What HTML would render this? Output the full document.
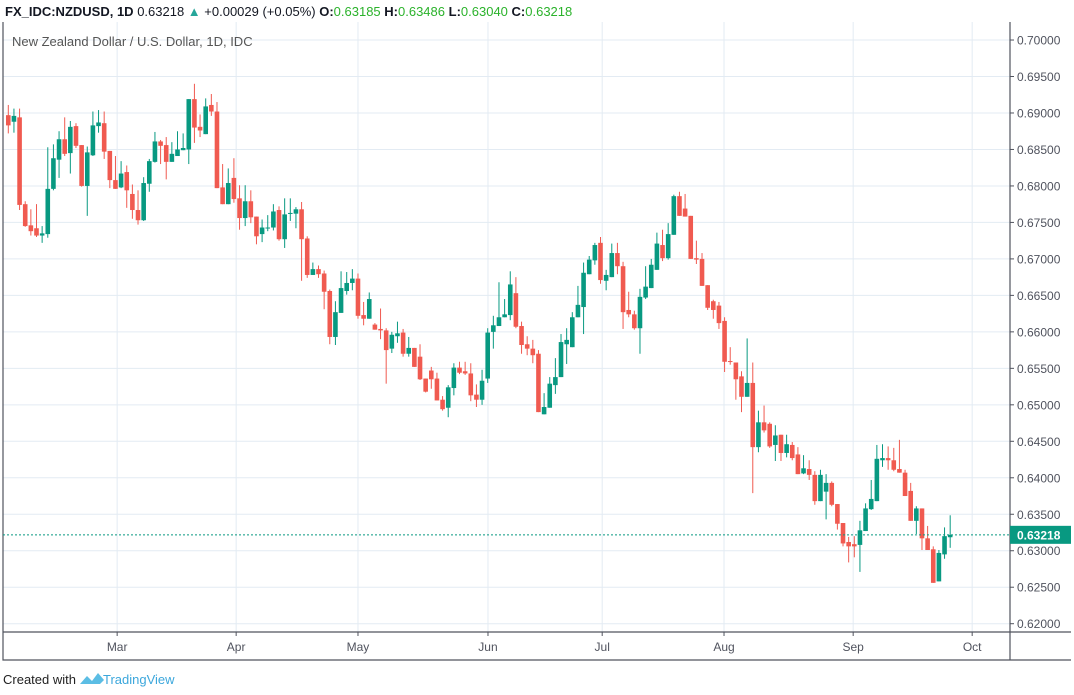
<!DOCTYPE html>
<html><head><meta charset="utf-8">
<style>
body{margin:0;background:#fff;width:1074px;height:695px;overflow:hidden;font-family:"Liberation Sans",sans-serif;}
svg{position:absolute;left:0;top:0;}
</style></head>
<body>
<svg id="chart" width="1074" height="695" xmlns="http://www.w3.org/2000/svg">
  <g id="grid"></g>
  <g id="candles"></g>
  <g id="axes"></g>
  <text x="5" y="16" font-size="13" fill="#131722"><tspan font-weight="bold">FX_IDC:NZDUSD, 1D</tspan> 0.63218 <tspan fill="#26a69a">▲</tspan> +0.00029 (+0.05%) <tspan font-weight="bold">O:</tspan><tspan fill="#2bb22b">0.63185</tspan> <tspan font-weight="bold">H:</tspan><tspan fill="#2bb22b">0.63486</tspan> <tspan font-weight="bold">L:</tspan><tspan fill="#2bb22b">0.63040</tspan> <tspan font-weight="bold">C:</tspan><tspan fill="#2bb22b">0.63218</tspan></text>
  <text x="12" y="46" font-size="13" fill="#555">New Zealand Dollar / U.S. Dollar, 1D, IDC</text>
  <text x="3" y="684" font-size="13" fill="#222">Created with</text>
  <path d="M80 684 L87 676 L92 681 L98 673 L104 680 L100 684 Z" fill="#5bbde4"/>
  <text x="103" y="684" font-size="13" fill="#3ca7dc">TradingView</text>
</svg>
<script>
const opens=[.6897,.6888,.6894,.6775,.6746,.6742,.6732,.6734,.6796,.6836,.6864,.6845,.6882,.6856,.6800,.6842,.6882,.6886,.6848,.6808,.6798,.6819,.6789,.6767,.6753,.6803,.6833,.6861,.6856,.6833,.6841,.6849,.6850,.6919,.6881,.6871,.6911,.6902,.6798,.6775,.6811,.6783,.6756,
.6779,.6758,.6734,.6743,.6743,.6767,.6727,.6762,.6762,.6768,.6728,.6678,.6686,.6680,.6656,.6593,.6626,.6656,.6667,.6673,.6623,.6618,.6610,.6604,.6602,.6577,.6594,.6599,.6570,.6578,.6566,.6536,.6547,.6536,.6507,.6496,.6523,.6551,.6546,.6543,.6514,.6507,.6536,
.6600,.6608,.6620,.6623,.6653,.6608,.6583,.6577,.6570,.6487,.6496,.6527,.6538,.6583,.6579,.6620,.6634,.6679,.6698,.6722,.6670,.6675,.6708,.6690,.6630,.6624,.6605,.6647,.6660,.6685,.6719,.6701,.6733,.6786,.6769,.6759,.6701,.6700,.6664,.6642,.6636,.6615,
.6560,.6558,.6539,.6511,.6530,.6442,.6476,.6474,.6445,.6459,.6434,.6445,.6432,.6406,.6412,.6404,.6368,.6381,.6393,.6364,.6338,.6312,.6309,.6308,.6327,.6357,.6368,.6424,.6427,.6424,.6412,.6407,.6382,.6341,.6358,.6317,.6302,.6258,.6295,.63185];
const highs=[.6911,.6906,.6906,.6779,.6768,.6775,.6745,.6853,.6857,.6875,.6894,.6889,.6886,.6856,.6854,.6902,.6904,.6902,.6848,.6841,.6834,.6828,.6802,.6794,.6812,.6837,.6874,.6863,.6867,.6860,.6875,.6872,.6919,.6940,.6898,.6920,.6926,.6915,.6830,.6824,.6838,.6801,.6801,
.6794,.6758,.6754,.6760,.6775,.6772,.6783,.6783,.6771,.6778,.6731,.6695,.6691,.6684,.6658,.6642,.6683,.6682,.6686,.6680,.6641,.6654,.6612,.6632,.6605,.6600,.6614,.6604,.6593,.6578,.6583,.6536,.6552,.6544,.6512,.6527,.6557,.6559,.6559,.6557,.6528,.6548,.6605,
.6622,.6668,.6645,.6683,.6675,.6614,.6594,.6589,.6575,.6516,.6538,.6564,.6597,.6605,.6627,.6663,.6695,.6704,.6722,.6730,.6685,.6721,.6722,.6696,.6655,.6629,.6659,.6690,.6700,.6736,.6740,.6749,.6788,.6792,.6789,.6759,.6725,.6708,.6664,.6644,.6641,.6620,
.6579,.6558,.6546,.6591,.6558,.6492,.6499,.6476,.6472,.6459,.6459,.6449,.6442,.6431,.6424,.6409,.6411,.6405,.6395,.6364,.6338,.6319,.6320,.6341,.6365,.6397,.6445,.6446,.6443,.6441,.6452,.6411,.6393,.6361,.6358,.6334,.6306,.6301,.6332,.63486];
const lows=[.6872,.6873,.6767,.6744,.6732,.6730,.6722,.6729,.6794,.6811,.6841,.6817,.6852,.6799,.6759,.6841,.6873,.6837,.6797,.6796,.6797,.6770,.6755,.6747,.6752,.6792,.6832,.6830,.6809,.6833,.6841,.6849,.6830,.6859,.6867,.6871,.6896,.6797,.6775,.6775,.6777,.6740,.6745,
.6749,.6720,.6723,.6738,.6739,.6725,.6715,.6752,.6742,.6670,.6674,.6678,.6674,.6631,.6583,.6582,.6626,.6651,.6657,.6618,.6609,.6618,.6603,.6590,.6529,.6571,.6585,.6566,.6566,.6552,.6534,.6517,.6522,.6506,.6492,.6483,.6513,.6542,.6541,.6505,.6497,.6500,.6530,
.6577,.6608,.6620,.6616,.6605,.6570,.6568,.6557,.6490,.6487,.6496,.6515,.6538,.6556,.6579,.6620,.6597,.6679,.6692,.6666,.6657,.6675,.6679,.6604,.6620,.6603,.6570,.6645,.6660,.6685,.6697,.6699,.6733,.6759,.6758,.6700,.6693,.6663,.6630,.6618,.6604,.6545,
.6555,.6507,.6490,.6511,.6379,.6435,.6462,.6441,.6423,.6423,.6428,.6424,.6405,.6405,.6397,.6363,.6368,.6343,.6361,.6329,.6306,.6284,.6291,.6271,.6327,.6356,.6368,.6415,.6411,.6409,.6407,.6375,.6341,.6323,.6301,.6301,.6256,.6258,.6289,.63040];
const closes=[.6883,.6896,.6774,.6745,.6738,.6732,.6735,.6796,.6838,.6864,.6844,.6881,.6855,.6800,.6846,.6883,.6887,.6847,.6808,.6796,.6817,.6794,.6767,.6753,.6804,.6834,.6861,.6855,.6833,.6844,.6850,.6852,.6919,.6880,.6876,.6909,.6902,.6797,.6775,.6804,.6782,.6756,.6779,
.6757,.6731,.6743,.6743,.6765,.6727,.6761,.6763,.6768,.6727,.6678,.6686,.6679,.6655,.6593,.6627,.6660,.6667,.6673,.6622,.6618,.6645,.6603,.6602,.6575,.6596,.6598,.6570,.6578,.6552,.6535,.6518,.6535,.6506,.6494,.6524,.6551,.6544,.6543,.6513,.6507,.6533,.6599,
.6609,.6620,.6624,.6665,.6607,.6582,.6577,.6568,.6490,.6497,.6529,.6538,.6586,.6589,.6620,.6637,.6681,.6699,.6719,.6671,.6678,.6708,.6690,.6627,.6624,.6605,.6648,.6662,.6692,.6721,.6701,.6734,.6786,.6759,.6758,.6700,.6699,.6663,.6633,.6630,.6612,.6559,
.6559,.6535,.6511,.6530,.6442,.6476,.6465,.6443,.6458,.6434,.6446,.6427,.6405,.6413,.6404,.6368,.6404,.6393,.6363,.6337,.6310,.6306,.6306,.6328,.6358,.6371,.6426,.6427,.6424,.6411,.6407,.6375,.6341,.6358,.6317,.6301,.6256,.6297,.6320,.63218];
const priceTicks=[0.62,0.625,0.63,0.635,0.64,0.645,0.65,0.655,0.66,0.665,0.67,0.675,0.68,0.685,0.69,0.695,0.70];
const monthLabels=["Mar","Apr","May","Jun","Jul","Aug","Sep","Oct"];
const monthIndex=[19.3,40.4,62.0,85.05,105.3,126.9,149.8,170.9];
const lastPrice=0.63218;

const NS="http://www.w3.org/2000/svg";
const X0=8.3, DX=5.64, PL=3, PR=1010, PT=22, PB=632;
function xAt(i){return X0+i*DX;}
function yAt(p){return 623.7-(p-0.62)/0.005*36.48;}
function mk(tag,attrs,parent){const e=document.createElementNS(NS,tag);for(const k in attrs)e.setAttribute(k,attrs[k]);parent.appendChild(e);return e;}
const grid=document.getElementById('grid'),cg=document.getElementById('candles'),ax=document.getElementById('axes');

priceTicks.forEach(p=>{
  const y=yAt(p);
  const l=mk('line',{x1:PL,x2:PR,y1:y,y2:y,stroke:'#e3ebf3','stroke-width':1},grid);
  
  
  mk('line',{x1:PR,x2:PR+4,y1:y,y2:y,stroke:'#50535e'},ax);
  const t=mk('text',{x:1017,y:y+4.5,'font-size':12,fill:'#50535e'},ax);
  t.textContent=p.toFixed(5);
  
  
});
monthIndex.forEach((mi,k)=>{
  const x=xAt(mi);
  const l=mk('line',{x1:x,x2:x,y1:PT,y2:PB,stroke:'#e3ebf3','stroke-width':1},grid);
  
  
  mk('line',{x1:x,x2:x,y1:PB,y2:PB+4,stroke:'#50535e'},ax);
  const t=mk('text',{x:x,y:651,'font-size':12,fill:'#50535e','text-anchor':'middle'},ax);
  t.textContent=monthLabels[k];
  
  
});
opens.forEach((o,i)=>{
  const c=closes[i],up=c>=o,col=up?'#089981':'#f05a50',x=xAt(i);
  const w=mk('line',{x1:x,x2:x,y1:yAt(highs[i]),y2:yAt(lows[i]),stroke:col,'stroke-width':1},cg);
  
  
  const yt=yAt(Math.max(o,c)),yb=yAt(Math.min(o,c));
  const r=mk('rect',{x:x-2.3,y:yt,width:4.6,height:Math.max(1,yb-yt),fill:col},cg);
  
  
});
const fr=mk('path',{d:`M${PL} ${PT} V660 H1071 M${PL} ${PB} H1071 M${PR} ${PT} V660`,stroke:'#50535e',fill:'none','stroke-width':1.2},ax);


const ly=yAt(lastPrice);
const ll=mk('line',{x1:PL,x2:PR,y1:ly,y2:ly,stroke:'#089981','stroke-dasharray':'2,2','stroke-width':1},ax);


const lb=mk('rect',{x:PR,y:ly-9,width:61,height:18,fill:'#089981'},ax);


const lt=mk('text',{x:1017,y:ly+4.5,'font-size':12,fill:'#fff','font-weight':'bold'},ax);
lt.textContent=lastPrice.toFixed(5);


</script>
</body></html>
